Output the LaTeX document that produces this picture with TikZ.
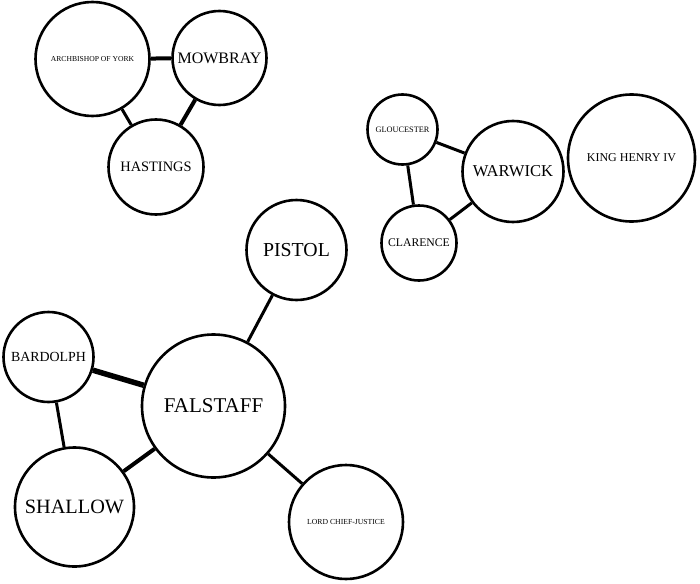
\documentclass[tikz,border=0pt]{standalone}
\usepackage{fontspec}
\setmainfont{Liberation Serif}
\usepackage{tikz}
\usetikzlibrary{positioning}

\newcommand{\namesize}[1]{\fontsize{#1}{#1}\selectfont}

\tikzset{
  person/.style={circle, draw, line width=2.6pt, inner sep=0pt},
  tie/.style={line width=3pt},
  tiemid/.style={line width=4pt},
  tiebold/.style={line width=5.5pt}
}

\begin{document}
\begin{tikzpicture}[x=1pt,y=-1pt]
  \useasboundingbox (0,0) rectangle (700,583);

  % Rebels
  \node[person, minimum size=114pt, font=\namesize{7.6}] (york) at (92.5,59) {ARCHBISHOP OF YORK};
  \node[person, minimum size=94pt, font=\namesize{16}] (mowbray) at (219.5,58) {MOWBRAY};
  \node[person, minimum size=95pt, font=\namesize{14.4}] (hastings) at (156,167) {HASTINGS};

  \draw[tiemid] (york) -- (mowbray);
  \draw[tie] (york) -- (hastings);
  \draw[tiemid] (mowbray) -- (hastings);

  % The King's party
  \node[person, minimum size=70pt, font=\namesize{8.3}] (gloucester) at (402.5,129.5) {GLOUCESTER};
  \node[person, minimum size=101pt, font=\namesize{16.6}] (warwick) at (513,171.5) {WARWICK};
  \node[person, minimum size=127pt, font=\namesize{12}] (king) at (631.5,158) {KING HENRY IV};
  \node[person, minimum size=75pt, font=\namesize{11.7}] (clarence) at (419,243) {CLARENCE};

  \draw[tie] (gloucester) -- (warwick);
  \draw[tie] (gloucester) -- (clarence);
  \draw[tie] (clarence) -- (warwick);

  % Falstaff and company
  \node[person, minimum size=143pt, font=\namesize{21}] (falstaff) at (213.5,406) {FALSTAFF};
  \node[person, minimum size=100pt, font=\namesize{19.8}] (pistol) at (296.5,250) {PISTOL};
  \node[person, minimum size=90pt, font=\namesize{13.9}] (bardolph) at (48.5,357) {BARDOLPH};
  \node[person, minimum size=119pt, font=\namesize{20.3}] (shallow) at (74.5,507) {SHALLOW};
  \node[person, minimum size=114pt, font=\namesize{7.7}] (justice) at (346,522) {LORD CHIEF-JUSTICE};

  \draw[tie] (pistol) -- (falstaff);
  \draw[tiebold] (bardolph) -- (falstaff);
  \draw[tie] (bardolph) -- (shallow);
  \draw[tiemid] (shallow) -- (falstaff);
  \draw[tie] (falstaff) -- (justice);
\end{tikzpicture}
\end{document}
